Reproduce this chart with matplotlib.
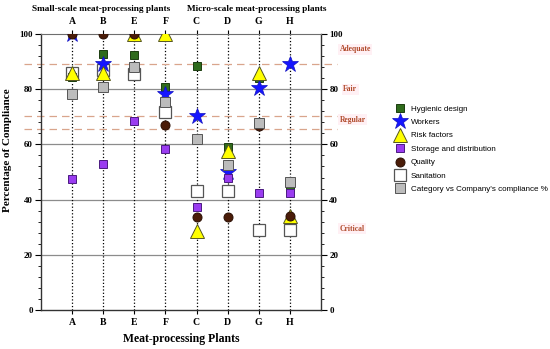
import numpy as np
import matplotlib.pyplot as plt
from matplotlib.ticker import MultipleLocator

plt.rcParams['font.family'] = ['Liberation Serif', 'DejaVu Serif']

# plants in plotting order
plants = ['A', 'B', 'E', 'F', 'C', 'D', 'G', 'H']

# compliance values (%) read per plant
hygienic = [84.5, 92.6, 92.4, 80.9, 88.5, 59.2, 83.9, 44.7]
workers = [100, 89.1, 100, 78.3, 70.4, 49.9, 80.3, 89.0]
risk = [85.8, 85.8, 100, 100, 28.6, 57.5, 85.7, 34.2]
storage = [47.5, 52.9, 68.5, 58.2, 37.2, 47.7, 42.3, 42.5]
quality = [100, 100, 100, 67.0, 33.6, 33.6, 66.5, 34.2]
sanitation = [86.0, 87.0, 85.5, 71.9, 43.1, 43.1, 29.0, 29.0]
category = [78.1, 80.8, 88.2, 75.2, 61.8, 52.5, 67.6, 46.5]

levels = [89.2, 70.3, 65.6]
level_labels = ['Adequate', 'Fair', 'Regular', 'Critical']
level_label_y = [94.5, 80, 69, 29.5]

fig = plt.figure(figsize=(5.5, 3.49), dpi=100)
ax = fig.add_axes([0.0745, 0.1117, 0.5091, 0.7909])

x = np.arange(len(plants))

for yv in [20, 40, 60, 80]:
    ax.axhline(yv, color='#8c8c8c', lw=0.9, zorder=1)
for xv in x:
    ax.plot([xv, xv], [0, 100], ls=':', color='black', lw=0.9, zorder=1)
for yv in levels:
    ax.plot([-1.55, 8.5], [yv, yv], ls=(0, (6, 4)), color='#d9a58c', lw=0.9,
            clip_on=False, zorder=1)

ax.plot(x, sanitation, 's', ms=8.5, mfc='white', mec='#555555', mew=0.9, ls='none',
        label='Sanitation', zorder=3)
ax.plot(x, hygienic, 's', ms=6, mfc='#2f6b1c', mec='#1c3d10', mew=0.7, ls='none',
        label='Hygienic design', zorder=4)
ax.plot(x, workers, '*', ms=12, mfc='#1515ff', mec='#1010c0', mew=0.5, ls='none',
        label='Workers', zorder=4)
ax.plot(x, risk, '^', ms=10, mfc='#ffff00', mec='#555522', mew=0.7, ls='none',
        label='Risk factors', zorder=5)
ax.plot(x, quality, 'o', ms=6.5, mfc='#4a1c08', mec='#2a0f04', mew=0.7, ls='none',
        label='Quality', zorder=6)
ax.plot(x, category, 's', ms=6.5, mfc='#bcbcbc', mec='#555555', mew=0.7, ls='none',
        label="Category vs Company's compliance %", zorder=6)
ax.plot(x, storage, 's', ms=6, mfc='#9a3cf0', mec='#4a1a80', mew=0.7, ls='none',
        label='Storage and distribution', zorder=7)

ax.set_xlim(-1, 8)
ax.set_ylim(0, 100)
ax.set_xticks(x)
ax.set_xticklabels(plants, fontweight='bold', fontsize=7)
ax.tick_params(axis='x', top=True, labeltop=True, length=3, pad=3)
ax.yaxis.set_major_locator(MultipleLocator(20))
ax.yaxis.set_minor_locator(MultipleLocator(4))
ax.tick_params(axis='y', which='both', left=True, right=True, labelright=True,
               labelsize=6.5, pad=2)
ax.tick_params(axis='y', which='major', length=4)
ax.tick_params(axis='y', which='minor', length=2)
for lab in ax.get_yticklabels():
    lab.set_fontweight('bold')

ax.spines['top'].set_color('#6e6e6e')
for s in ['left', 'right', 'bottom']:
    ax.spines[s].set_color('#333333')
    ax.spines[s].set_linewidth(1.0)

ax.set_xlabel('Meat-processing Plants', fontweight='bold', fontsize=8.5)
ax.set_ylabel('Percentage of Compliance', fontweight='bold', fontsize=8)
ax.yaxis.set_label_coords(-0.105, 0.58)

lab_x = [8.6, 8.72, 8.6, 8.6]
for name, yv, xv in zip(level_labels, level_label_y, lab_x):
    ax.text(xv, yv, name, color='#b04a2a', fontsize=5.5, fontweight='bold',
            va='center', ha='left', clip_on=False,
            bbox=dict(facecolor='#fff0f4', edgecolor='none', pad=1))

fig.text(0.184, 0.985, 'Small-scale meat-processing plants', ha='center', va='top',
         fontweight='bold', fontsize=6.7)
fig.text(0.467, 0.985, 'Micro-scale meat-processing plants', ha='center', va='top',
         fontweight='bold', fontsize=6.7)

handles, labels = ax.get_legend_handles_labels()
order = ['Hygienic design', 'Workers', 'Risk factors', 'Storage and distribution',
         'Quality', 'Sanitation', "Category vs Company's compliance %"]
hmap = dict(zip(labels, handles))
fig.legend([hmap[o] for o in order], order, loc='upper left',
           bbox_to_anchor=(0.705, 0.72), frameon=False, handlelength=1.2,
           handletextpad=0.8, labelspacing=0.72,
           prop={'family': 'Liberation Sans', 'size': 5.8})

fig.savefig('out.png', dpi=100)
